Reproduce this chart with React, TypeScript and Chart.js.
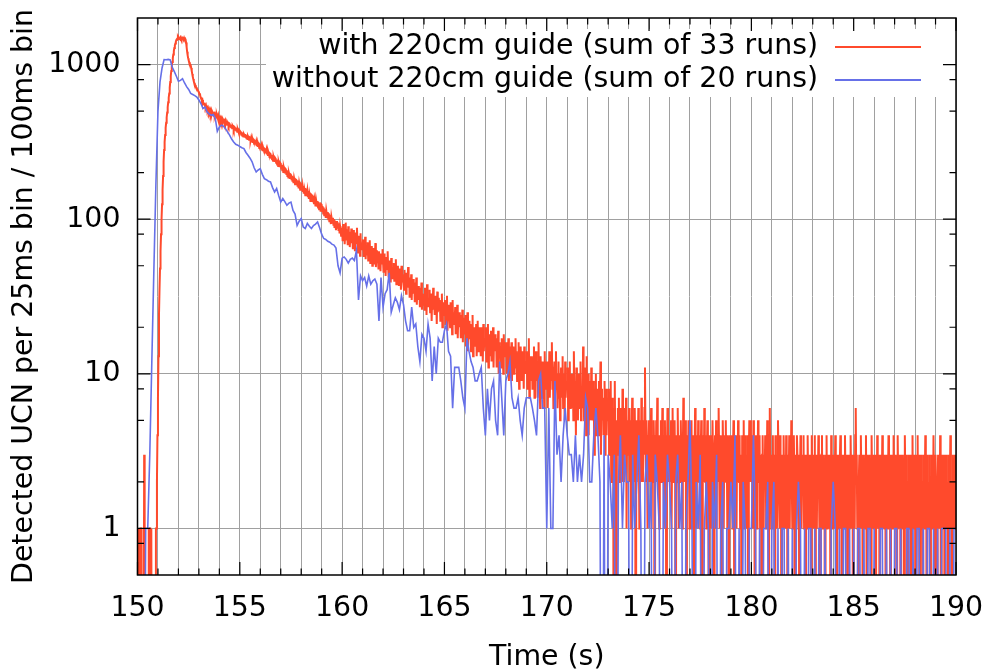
import { useEffect, useRef } from 'react';
import { Chart, registerables } from 'chart.js';

Chart.register(...registerables);

const T0 = 150;
const RED_BIN = 0.025;
const BLUE_BIN = 0.1;
const RED = '#ff4a2c';
const BLUE = '#6670e8';
const FONT = '"DejaVu Sans", sans-serif';
const FONT_SIZE = 28.4;
// log(0) is -infinity: zero counts are drawn off the bottom of the axis, as gnuplot does
const BELOW_AXIS = 1e-3;

const redLabel = 'with 220cm guide (sum of 33 runs)';
const blueLabel = 'without 220cm guide (sum of 20 runs)';
const xTitle = 'Time (s)';
const yTitle = 'Detected UCN per 25ms bin / 100ms bin';

const xGridTicks = [150, 151, 152, 153, 154, 155, 156, 157, 158, 159, 160, 161, 162, 163, 164, 165, 166, 167, 168, 169, 170, 171, 172, 173, 174, 175, 176, 177, 178, 179, 180, 181, 182, 183, 184, 185, 186, 187, 188, 189, 190];
const xLabelTicks = [150, 155, 160, 165, 170, 175, 180, 185, 190];
const yMajorTicks = [1, 10, 100, 1000];
const yMinorTicks = [0.8, 2, 5, 8, 20, 50, 80, 200, 500, 800, 2000];

// with 220cm guide: counts per 25 ms bin starting at 150.000 s
const redCounts = [
  0,0,0,1,1,0,1,1,0,0, 0,0,0,3,0,0,0,0,0,0, 0,0,1,0,1,1,0,1,1,0, 0,0,0,0,0,0,1,1,2,4,
  7,13,24,35,48,62,80,100,125,155, 190,235,280,315,350,390,420,455,490,530, 570,610,650,710,770,840,910,980,1040,1100, 1160,1220,1280,1330,1370,1410,1440,1460,1475,1490,
  1462,1481,1455,1470,1497,1466,1478,1450,1485,1472, 1460,1488,1458,1470,1440,1390,1300,1210,1150,1100, 1065,1040,1020,1000,985,950,910,870,835,805, 780,760,745,735,720,710,700,690,680,670,
  664,641,652,618,607,602,581,590,566,561, 552,566,538,529,541,517,526,508,520,499, 511,493,506,486,501,479,497,488,470,483, 486,466,479,471,458,475,462,449,468,451,
  455,438,449,431,444,426,440,423,436,429, 434,419,431,412,425,408,421,414,403,417, 414,398,409,393,405,388,401,395,382,396, 393,379,390,374,386,368,381,372,362,377,
  373,358,369,351,364,347,360,343,355,350, 355,340,352,334,347,330,343,337,326,339, 337,322,334,316,329,312,325,318,307,321, 318,304,316,298,311,294,307,300,289,303,
  300,286,297,279,292,275,288,281,270,284, 282,268,279,262,275,257,271,264,252,266, 264,250,261,244,257,239,253,246,235,249, 246,232,243,226,239,221,235,228,217,231,
  228,213,225,207,220,202,216,209,198,212, 210,196,207,190,203,186,199,193,182,195, 194,181,191,175,188,171,185,178,168,181, 180,167,178,162,175,158,172,165,155,169,
  167,155,164,150,161,146,158,152,143,156, 155,143,152,139,150,135,147,141,131,145, 144,132,142,129,139,125,136,131,121,134, 134,122,131,119,129,116,127,121,112,125,
  124,113,121,109,119,106,116,111,102,114, 114,103,111,100,109,97,107,101,93,104, 104,95,102,92,100,89,98,93,85,96, 96,87,94,84,92,81,90,85,78,88,
  84,72,93,78,88,69,81,95,74,86, 79,68,90,75,83,66,80,73,87,70, 77,64,85,71,79,62,82,69,75,88, 71,60,78,66,74,58,81,64,70,67,
  66,74,57,69,61,77,55,68,63,59, 71,54,64,60,73,52,62,57,67,50, 59,65,51,61,56,70,49,58,63,53, 55,48,62,52,58,46,60,51,54,64,
  53,45,60,49,55,43,57,47,51,62, 48,42,54,46,50,39,56,44,49,41, 45,52,40,47,43,55,38,46,42,50, 42,37,48,40,45,35,50,39,44,41,
  41,35,47,38,43,33,45,37,40,49, 36,42,31,39,34,44,30,38,35,41, 33,39,29,36,32,42,28,35,31,37, 30,36,27,34,29,39,26,33,31,28,
  32,26,36,29,33,24,38,28,31,27, 30,35,25,29,33,22,31,27,36,26, 28,24,32,26,30,21,34,25,28,31, 26,30,22,28,25,33,20,27,24,29,
  25,30,21,27,23,32,19,26,22,28, 24,20,29,22,26,18,30,21,25,23, 22,27,18,24,20,28,17,23,21,25, 20,24,17,22,19,26,16,21,18,23,
  19,24,15,21,17,25,14,20,18,22, 17,21,14,19,16,24,13,18,20,15, 18,15,21,13,17,22,14,19,16,20, 16,13,20,15,18,12,21,14,17,15,
  16,20,12,17,14,21,11,15,18,13, 15,19,12,16,13,20,11,17,14,18, 14,17,11,15,12,19,10,16,13,15, 14,11,17,12,15,10,18,13,14,16,
  13,16,10,14,12,17,9,13,15,11, 12,16,9,13,11,15,10,14,12,17, 11,14,9,12,10,16,8,13,11,15, 12,9,14,10,13,8,15,11,12,10,
  11,14,8,12,10,17,7,11,13,9, 10,13,8,11,9,15,7,12,10,14, 9,12,7,10,16,8,11,6,13,9, 10,7,12,9,11,6,14,8,10,12,
  9,12,6,10,8,14,7,11,9,13, 16,8,11,6,10,12,7,9,14,8, 10,6,9,12,7,10,5,8,11,7, 9,13,6,8,10,5,12,7,9,8,
  8,11,5,9,7,12,6,8,10,6, 7,10,5,14,8,6,9,4,11,7, 8,5,10,7,9,6,12,5,8,7, 6,15,8,5,11,7,9,4,13,6,
  7,10,4,8,6,9,5,11,6,7, 5,9,6,3,8,7,10,4,6,8, 6,4,9,5,7,12,3,8,5,6, 7,4,6,9,3,5,8,4,7,5,
  5,8,3,6,4,9,2,5,7,4, 6,0,4,9,3,1,0,5,3,6, 4,7,2,5,3,6,4,2,8,3, 5,2,6,4,3,7,1,4,5,3,
  4,6,2,5,3,1,4,7,3,5, 2,4,6,3,0,5,2,4,3,6, 4,1,3,5,2,7,3,4,2,5, 3,6,11,4,2,5,3,1,4,3,
  5,2,4,3,6,1,3,4,2,5, 3,0,4,2,5,3,7,2,4,3, 1,4,3,5,2,3,6,2,4,1, 3,5,2,4,0,3,6,3,2,4,
  2,4,3,5,1,3,6,2,4,3, 5,2,0,3,4,2,6,3,1,4, 3,2,5,3,4,1,3,7,2,4, 3,5,2,0,4,3,2,5,3,1,
  4,2,3,5,1,3,2,4,0,3, 6,2,3,1,4,2,5,3,2,4, 1,3,5,2,0,3,4,2,6,3, 2,4,1,3,5,2,3,0,4,2,
  3,1,4,2,5,3,2,0,3,4, 2,5,1,3,2,4,6,3,1,2, 4,3,0,2,5,3,1,4,2,3, 5,2,3,1,4,2,0,3,4,2,
  3,2,4,1,3,5,2,0,3,2, 4,1,3,2,5,3,2,4,1,3, 2,0,4,3,2,5,1,3,4,2, 3,1,2,4,0,3,5,2,5,3,
  4,2,3,1,5,2,3,0,2,4, 3,1,2,5,3,2,4,1,3,2, 0,3,4,2,1,3,2,4,3,1, 2,5,3,2,0,4,6,2,3,1,
  3,2,4,1,2,3,0,4,2,3, 1,2,5,3,2,1,4,2,3,0, 2,3,1,4,2,3,2,1,4,3, 2,0,3,2,4,1,3,2,5,2,
  1,3,2,4,2,0,3,1,2,4, 3,2,1,3,0,2,4,3,1,2, 3,2,4,1,2,3,0,2,3,1, 4,2,3,2,1,3,2,0,4,2,
  2,3,1,2,4,0,3,2,1,3, 2,4,2,1,3,0,2,3,4,1, 2,3,1,2,0,3,2,4,1,2, 3,1,2,3,2,0,4,2,1,3,
  2,1,3,2,4,1,2,0,3,2, 1,3,2,2,4,1,3,0,2,1, 3,2,1,4,2,3,1,2,0,3, 2,1,3,2,4,2,1,3,2,0,
  3,2,1,4,6,2,3,1,2,0, 2,3,1,2,4,2,1,3,0,2, 3,1,2,2,4,1,0,3,2,1, 2,3,1,2,0,4,2,1,3,2,
  1,2,3,0,2,1,4,2,3,1, 2,0,3,2,1,2,4,1,3,2, 1,3,2,0,2,3,1,2,4,1, 2,3,0,1,2,3,2,1,4,2,
  2,1,3,2,0,1,4,2,1,3, 2,2,0,3,1,2,3,1,2,0, 4,2,1,3,2,1,0,2,3,1, 2,3,1,0,2,4,1,2,3,1,
  2,0,3,1,2,4,1,2,3,0, 1,2,3,2,1,0,2,3,1,2, 4,1,2,0,3,1,2,2,1,3, 0,2,1,3,2,1,4,2,0,1,
  3,1,2,0,2,3,1,2,1,4, 2,0,1,3,2,1,2,3,0,2, 1,3,2,1,2,0,3,1,2,4, 1,2,0,2,3,1,2,1,3,2,
  2,
];

// without 220cm guide: counts per 100 ms bin starting at 150.0 s
const blueCounts = [
  0,0,0,0,1,1,3,12,47,170, 500,772,950,1077,1075,1080,1070,960,900,840,
  780,790,810,760,720,690,650,640,630,617, 590,560,520,530,494,480,470,475,450,370,
  395,405,400,385,367,350,330,316,305,301, 295,290,286,270,259,248,235,215,202,208,
  212,195,183,180,176,174,160,150,158,142, 129,136,130,123,127,129,114,108,91,97,
  101,89,87,94,90,87,91,93,96,88, 80,75,74,72,71,69,68,65,50,45,
  56,57,55,52,55,56,54,63,30,43, 40,42,37,43,38,40,41,38,22,42,
  27,33,35,45,25,28,31,29,26,32, 28,22,19,19,27,20,21,15,12,18,
  17,14,21,17,9,15,10,17,16,16, 19,21,14,13,6,11,11,11,9,7,
  6,17,14,12,11,9,9,10,11,6, 4,8,5,8,9,5,4,12,7,4,
  9,10,12,7,6,6,7,5,4,6, 7,7,7,6,5,4,9,10,6,6,
  1,6,1,1,9,3,4,2,4,6, 4,3,3,2,4,2,3,2,3,7,
  6,2,2,4,6,4,2,0,4,0, 3,2,1,3,0,2,4,1,3,2,
  2,0,3,1,2,4,1,0,2,3, 1,2,0,3,2,1,0,2,1,3,
  2,1,0,2,3,1,2,0,1,2, 5,1,0,2,1,3,0,1,2,1,
  0,2,1,3,0,1,2,0,1,1, 2,1,4,0,1,0,2,1,0,1,
  1,4,1,0,1,0,1,1,2,0, 1,2,0,1,0,1,1,0,1,0,
  1,0,1,2,1,0,1,0,1,1, 0,1,0,1,1,0,1,0,0,1,
  2,1,0,1,0,1,1,0,1,0, 1,0,1,1,0,1,0,1,1,0,
  1,0,0,1,1,0,1,0,1,0, 1,1,0,1,0,0,1,1,0,1,
  0,1,1,0,1,0,1,1,0,1, 0,1,0,1,1,1,0,1,0,1,
  1,
];

const LEGEND_TEXT_RIGHT = 818;
const LEGEND_LINE_X0 = 835;
const LEGEND_LINE_X1 = 921;
const LEGEND_ROWS = [47, 80];

const gnuplotFrame = {
  id: 'gnuplotFrame',
  beforeDatasetsDraw(chart: any) {
    const ctx = chart.ctx;
    ctx.save();
    ctx.fillStyle = '#ffffff';
    ctx.fillRect(266, 29, 679, 68);
    ctx.restore();
  },
  afterDatasetsDraw(chart: any) {
    const { ctx, chartArea: a, scales } = chart;
    const xs = scales.x;
    const ys = scales.y;
    ctx.save();
    ctx.strokeStyle = '#000000';
    ctx.lineWidth = 1.2;
    ctx.beginPath();
    for (const v of xGridTicks) {
      const px = xs.getPixelForValue(v);
      const len = v % 5 === 0 ? 13 : 6.5;
      ctx.moveTo(px, a.bottom);
      ctx.lineTo(px, a.bottom - len);
      ctx.moveTo(px, a.top);
      ctx.lineTo(px, a.top + len);
    }
    const yt = [...yMajorTicks.map((v) => [v, 13]), ...yMinorTicks.map((v) => [v, 6.5])];
    for (const [v, len] of yt) {
      const py = ys.getPixelForValue(v);
      if (py < a.top + 1 || py > a.bottom - 1) continue;
      ctx.moveTo(a.left, py);
      ctx.lineTo(a.left + len, py);
      ctx.moveTo(a.right, py);
      ctx.lineTo(a.right - len, py);
    }
    ctx.stroke();
    ctx.lineWidth = 1.5;
    ctx.strokeRect(a.left, a.top, a.right - a.left, a.bottom - a.top);

    // key
    const items = [
      { label: redLabel, color: RED, width: 2 },
      { label: blueLabel, color: BLUE, width: 2 },
    ];
    ctx.font = `${FONT_SIZE}px ${FONT}`;
    ctx.textAlign = 'right';
    ctx.textBaseline = 'middle';
    items.forEach((it, k) => {
      const y = LEGEND_ROWS[k];
      ctx.fillStyle = '#000000';
      ctx.fillText(it.label, LEGEND_TEXT_RIGHT, y);
      ctx.strokeStyle = it.color;
      ctx.lineWidth = it.width;
      ctx.beginPath();
      ctx.moveTo(LEGEND_LINE_X0, y);
      ctx.lineTo(LEGEND_LINE_X1, y);
      ctx.stroke();
    });
    ctx.restore();
  },
};

export default function App() {
  const ref = useRef<HTMLCanvasElement | null>(null);

  useEffect(() => {
    if (!ref.current) return;
    const redPts = redCounts.map((c, i) => ({ x: T0 + i * RED_BIN, y: c === 0 ? BELOW_AXIS : c }));
    const bluePts = blueCounts.map((c, i) => ({ x: T0 + i * BLUE_BIN, y: c === 0 ? BELOW_AXIS : c }));
    const chart = new Chart(ref.current, {
      type: 'line',
      data: {
        datasets: [
          {
            label: blueLabel,
            data: bluePts,
            borderColor: BLUE,
            backgroundColor: BLUE,
            borderWidth: 1.6,
            pointRadius: 0,
            tension: 0,
            order: 0,
            clip: 0,
          } as any,
          {
            label: redLabel,
            data: redPts,
            borderColor: RED,
            backgroundColor: RED,
            borderWidth: 2,
            pointRadius: 0,
            tension: 0,
            order: 1,
            clip: 0,
          } as any,
        ],
      },
      options: {
        animation: false,
        responsive: false,
        events: [],
        layout: { padding: { top: 18, right: 34, left: 0, bottom: 0 } },
        plugins: {
          legend: { display: false },
          tooltip: { enabled: false },
          title: { display: false },
        },
        scales: {
          x: {
            type: 'linear',
            min: 150,
            max: 190,
            afterBuildTicks: (s: any) => {
              s.ticks = xGridTicks.map((v) => ({ value: v }));
            },
            afterFit: (s: any) => {
              s.height = 95;
              s.paddingLeft = 0;
              s.paddingRight = 0;
            },
            ticks: {
              autoSkip: false,
              maxRotation: 0,
              padding: 17,
              color: '#000000',
              font: { family: FONT, size: FONT_SIZE },
              callback: (v: any) => (xLabelTicks.includes(Number(v)) ? String(v) : ''),
            },
            grid: { color: '#a0a0a0', lineWidth: 1, drawTicks: false },
            border: { display: false },
            title: {
              display: true,
              text: xTitle,
              color: '#000000',
              font: { family: FONT, size: FONT_SIZE },
              padding: { top: 0, bottom: -5 },
            },
          },
          y: {
            type: 'logarithmic',
            min: 0.5,
            max: 2000,
            afterBuildTicks: (s: any) => {
              s.ticks = [...yMinorTicks, ...yMajorTicks].sort((p, q) => p - q).map((v) => ({ value: v }));
            },
            afterFit: (s: any) => {
              s.width = 137.5;
              s.paddingTop = 0;
              s.paddingBottom = 0;
            },
            ticks: {
              autoSkip: false,
              padding: 17,
              color: '#000000',
              font: { family: FONT, size: FONT_SIZE },
              callback: (v: any) => (yMajorTicks.includes(Number(v)) ? String(v) : ''),
            },
            grid: {
              drawTicks: false,
              lineWidth: 1,
              color: (c: any) => (yMajorTicks.includes(c.tick?.value) ? '#a0a0a0' : 'rgba(0,0,0,0)'),
            },
            border: { display: false },
            title: {
              display: true,
              text: yTitle,
              color: '#000000',
              font: { family: FONT, size: FONT_SIZE },
              padding: { top: 8, bottom: 0 },
            },
          },
        },
      },
      plugins: [gnuplotFrame],
    });
    return () => chart.destroy();
  }, []);

  return (
    <div style={{ position: 'absolute', left: 0, top: 0, width: 990, height: 670, background: '#ffffff' }}>
      <canvas ref={ref} width={990} height={670} style={{ display: 'block', width: 990, height: 670 }} />
    </div>
  );
}
